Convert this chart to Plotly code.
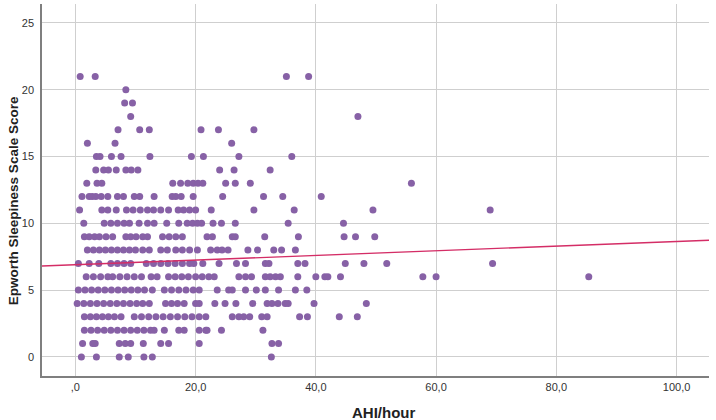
import numpy as np
import plotly.graph_objects as go

# AHI/hour values for each Epworth score (rows)
ess_rows = {
    21: [0.8, 3.3, 35.1, 38.8],
    20: [8.4],
    19: [8.2, 9.5],
    18: [9.2, 47.0],
    17: [7.1, 10.7, 12.3, 20.9, 23.8, 29.7],
    16: [2.0, 6.6, 26.0],
    15: [3.5, 4.1, 6.0, 7.6, 12.4, 19.3, 21.3, 27.2, 36.0],
    14: [3.4, 4.7, 5.5, 6.8, 8.4, 9.3, 10.4, 24.0, 26.4, 32.4],
    13: [1.9, 3.6, 4.4, 16.2, 17.5, 18.7, 19.6, 20.4, 21.2, 25.0, 26.6, 29.1, 55.9],
    12: [1.1, 2.3, 2.8, 3.4, 4.3, 5.4, 7.0, 8.0, 9.8, 10.7, 13.1, 16.1, 16.7, 17.6,
         19.6, 24.5, 31.3, 34.5, 40.9],
    11: [0.7, 4.4, 5.4, 6.8, 8.5, 9.6, 10.8, 12.0, 13.0, 14.2, 15.5, 17.1, 18.0, 19.0,
         20.0, 22.6, 29.7, 36.4, 49.5, 69.0],
    10: [1.4, 4.8, 5.9, 7.0, 8.1, 9.0, 10.6, 12.0, 13.1, 15.2, 17.2, 18.6, 19.5, 20.3,
         21.0, 22.9, 24.3, 26.6, 35.4, 44.6],
    9: [1.5, 2.3, 3.2, 4.0, 5.1, 6.2, 8.4, 9.2, 10.1, 11.2, 12.0, 14.5, 15.6, 16.7,
        17.8, 21.9, 22.8, 26.1, 26.6, 31.5, 37.1, 44.7, 46.6, 49.8],
    8: [2.0, 3.0, 4.0, 5.0, 6.0, 7.0, 8.0, 9.0, 10.0, 11.2, 12.3, 14.2, 15.3, 16.7,
        17.8, 19.0, 20.3, 22.5, 23.6, 24.4, 25.4, 28.7, 30.3, 33.0, 34.3, 36.6],
    7: [0.5, 2.3, 3.9, 5.9, 7.0, 8.1, 9.2, 11.8, 13.0, 14.2, 15.4, 16.6, 17.8, 19.0,
        19.7, 21.2, 23.9, 26.8, 28.3, 31.6, 32.2, 37.0, 38.2, 44.9, 48.0, 51.8, 69.4],
    6: [1.8, 3.0, 4.2, 5.4, 6.2, 7.4, 8.6, 9.8, 11.0, 12.6, 13.6, 15.5, 16.6, 17.7,
        18.8, 20.0, 21.1, 22.2, 23.1, 27.2, 28.3, 29.3, 31.6, 32.4, 33.3, 34.1, 37.0,
        40.0, 41.5, 42.0, 44.1, 57.8, 60.0, 85.4],
    5: [0.5, 1.6, 2.7, 3.8, 4.9, 6.0, 7.1, 8.2, 9.3, 10.4, 11.5, 12.8, 14.8, 16.0,
        17.2, 18.4, 19.6, 20.6, 23.6, 25.5, 26.1, 28.3, 30.1, 31.6, 33.8, 36.6, 38.5],
    4: [0.3, 1.4, 2.5, 3.6, 4.7, 5.8, 6.9, 8.0, 9.1, 10.2, 11.2, 12.3, 15.0, 16.0,
        17.0, 18.1, 20.0, 20.6, 23.2, 24.9, 26.7, 29.5, 31.9, 32.7, 33.7, 34.9, 35.4,
        39.7, 48.4],
    3: [1.5, 2.5, 3.5, 4.5, 5.5, 6.5, 7.6, 9.8, 11.0, 12.2, 13.4, 14.6, 15.8, 17.0,
        18.2, 19.4, 20.6, 21.7, 26.1, 27.2, 28.0, 29.0, 31.0, 31.9, 37.3, 38.6, 43.9, 46.9],
    2: [1.5, 2.6, 3.7, 4.8, 5.9, 7.0, 8.1, 9.2, 10.3, 11.4, 12.5, 13.1, 14.8, 17.2,
        18.1, 20.6, 21.7, 21.9, 24.3, 31.2],
    1: [1.2, 2.9, 3.3, 7.3, 8.3, 9.2, 11.3, 14.2, 15.5, 20.6, 32.7, 33.8],
    0: [1.0, 3.5, 7.3, 8.8, 11.4, 12.8, 32.6],
}

ahi = [x for score, xs in ess_rows.items() for x in xs]
ess = [score for score, xs in ess_rows.items() for x in xs]

# fit line as drawn (intercept, slope)
fit_intercept = 6.90
fit_slope = 0.0174

x_ticks = [0, 20, 40, 60, 80, 100]
x_ticktext = [",0", "20,0", "40,0", "60,0", "80,0", "100,0"]
y_ticks = [0, 5, 10, 15, 20, 25]
x_title = "AHI/hour"
y_title = "Epworth Sleepiness Scale Score"

x_range = [-5.55, 105.4]
y_range = [-1.43, 26.42]

fit_x = np.array(x_range)
fit_y = fit_intercept + fit_slope * fit_x

fig = go.Figure()
fig.add_trace(go.Scatter(x=ahi, y=ess, mode="markers",
                         marker=dict(color="#8761a6", size=7, line=dict(width=0)),
                         showlegend=False))
fig.add_trace(go.Scatter(x=fit_x, y=fit_y, mode="lines",
                         line=dict(color="#d42d66", width=1.3),
                         showlegend=False))

fig.update_layout(
    width=716, height=420,
    margin=dict(l=42, r=7, t=4, b=44),
    plot_bgcolor="white", paper_bgcolor="white",
    font=dict(family="Liberation Sans, Arial, sans-serif", color="#333333", size=11),
)
fig.update_xaxes(range=x_range, tickvals=x_ticks, ticktext=x_ticktext,
                 showgrid=True, gridcolor="#cfcfcf", gridwidth=1, zeroline=False,
                 showline=True, linecolor="#7f7f7f", linewidth=1.5,
                 ticks="", ticklabelstandoff=0, automargin=False)
fig.update_yaxes(range=y_range, tickvals=y_ticks,
                 showgrid=True, gridcolor="#cfcfcf", gridwidth=1, zeroline=False,
                 showline=True, linecolor="#7f7f7f", linewidth=1.5,
                 ticks="", ticklabelstandoff=4, automargin=False)

# axis titles placed as annotations (SPSS puts them slightly off-centre)
fig.add_annotation(text="<b>" + x_title + "</b>", xref="paper", yref="paper",
                   x=0.5, y=0, yshift=-36, xshift=8, yanchor="middle",
                   showarrow=False, font=dict(size=15, color="#222222"))
fig.add_annotation(text="<b>" + y_title + "</b>", xref="paper", yref="paper",
                   x=0, y=0.47, xshift=-29, xanchor="center", yanchor="middle",
                   textangle=-90, showarrow=False,
                   font=dict(size=13.5, color="#222222"))

# page body has a default 8px margin; drop it so the figure sits at the corner
fig.write_html("out.html", config={"displayModeBar": False},
               post_script="document.body.style.margin='0';")
